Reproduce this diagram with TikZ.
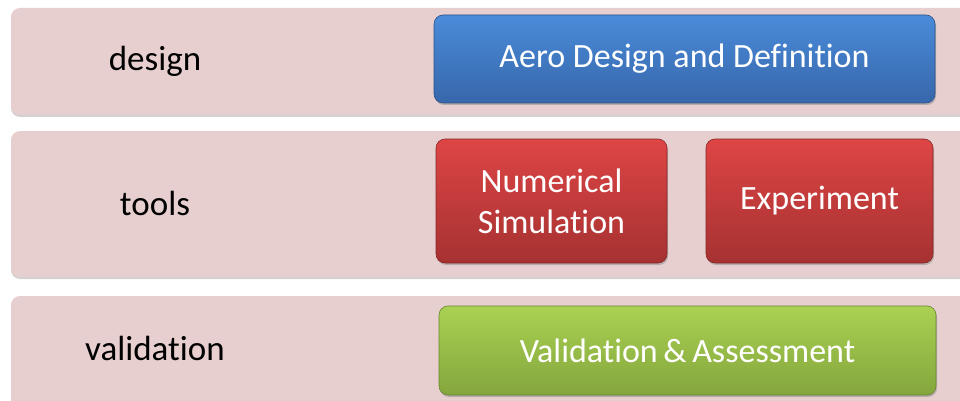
\documentclass[tikz,border=0pt]{standalone}
\usepackage{fontspec}
\setmainfont{Carlito}[Ligatures=NoCommon]
\usetikzlibrary{shadows}
\definecolor{bandpink}{HTML}{E7CFCF}
\definecolor{bluetop}{HTML}{4A8BD9}
\definecolor{bluebot}{HTML}{3767AB}
\definecolor{redtop}{HTML}{DE4545}
\definecolor{redbot}{HTML}{A63131}
\definecolor{greentop}{HTML}{AAD152}
\definecolor{greenbot}{HTML}{84A63D}
\begin{document}
\begin{tikzpicture}[x=1pt,y=-1pt,
  band/.style={fill=bandpink, rounded corners=9pt,
    drop shadow={opacity=0.35, shadow xshift=0pt, shadow yshift=-2pt}},
  rowlabel/.style={font=\fontsize{35}{40}\selectfont, text=black},
  tile/.style={rounded corners=9pt, text=white, align=center,
    font=\fontsize{34}{41}\selectfont, inner sep=0pt,
    drop shadow={opacity=0.45, shadow xshift=1pt, shadow yshift=-2pt}},
  bluetile/.style={tile, top color=bluetop, bottom color=bluebot, draw=bluebot!80!black, line width=0.6pt},
  redtile/.style={tile, top color=redtop, bottom color=redbot, draw=redbot!80!black, line width=0.6pt},
  greentile/.style={tile, top color=greentop, bottom color=greenbot, draw=greenbot!80!black, line width=0.6pt}]
\useasboundingbox (0,0) rectangle (960,401);
\fill[white] (0,0) rectangle (960,401);

% background bands
\path[band] (11,8) rectangle (980,115);
\path[band] (11,131) rectangle (980,277);
\path[band] (11,296) rectangle (980,430);

% row labels
\node[rowlabel] (ldesign) at (155,61) {design};
\node[rowlabel] (ltools) at (155,203) {tools};
\node[rowlabel] (lvalid) at (155,348) {validation};

% tiles
\node[bluetile, minimum width=501pt, minimum height=88pt] (aero) at (684.5,59) {Aero Design and Definition};
\node[redtile, minimum width=231pt, minimum height=124pt] (numsim) at (551.5,201) {Numerical\\Simulation};
\node[redtile, minimum width=227pt, minimum height=124pt] (exper) at (819.5,201) {Experiment};
\node[greentile, minimum width=497pt, minimum height=89pt] (valass) at (687.5,350.5) {Validation\,\&\,Assessment};
\end{tikzpicture}
\end{document}
